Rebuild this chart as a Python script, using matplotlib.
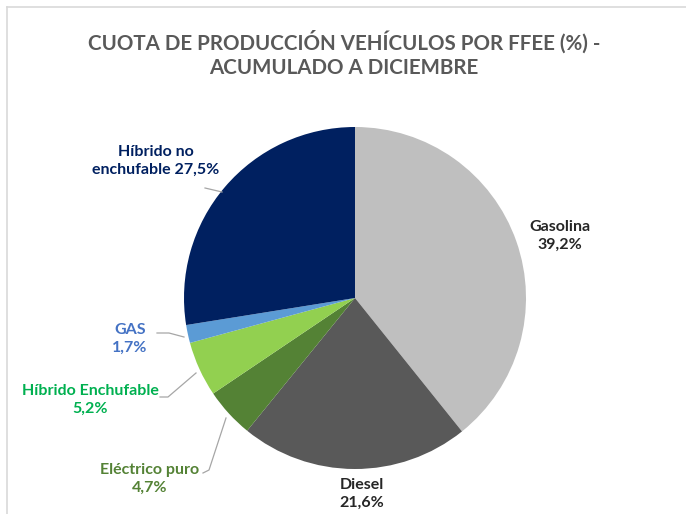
import matplotlib
matplotlib.use("Agg")
import matplotlib.pyplot as plt

categories = ["Gasolina", "Diesel", "Eléctrico puro", "Híbrido Enchufable", "GAS", "Híbrido no enchufable"]
values = [39.2, 21.6, 4.7, 5.2, 1.7, 27.5]
value_labels = ["39,2%", "21,6%", "4,7%", "5,2%", "1,7%", "27,5%"]
title = "CUOTA DE PRODUCCIÓN VEHÍCULOS POR FFEE (%) -\nACUMULADO A DICIEMBRE"

colors = ["#BFBFBF", "#595959", "#548235", "#92D050", "#5B9BD5", "#002060"]
label_colors = ["#262626", "#262626", "#548235", "#00B050", "#4472C4", "#002060"]

FONT = ["Lato", "DejaVu Sans"]

fig = plt.figure(figsize=(6.86, 5.14), dpi=100)
ax = fig.add_axes([0, 0, 1, 1])

ax.pie(values, colors=colors, startangle=-90, counterclock=True,
       center=(355, 298), radius=171, frame=True,
       wedgeprops=dict(linewidth=0))
ax.set_xlim(0, 686)
ax.set_ylim(514, 0)
ax.set_aspect("equal")
ax.axis("off")

# frame lines
ax.plot([7, 686], [7, 7], color="#D9D9D9", lw=1.2)
ax.plot([7, 7], [7, 514], color="#D9D9D9", lw=1.2)

ax.text(344, 54, title, ha="center", va="center", fontsize=14.8, fontweight="bold",
        color="#595959", family=FONT, linespacing=1.3)

fs = 11.5
lab = [
    (560, 236, "center", "Gasolina\n39,2%"),
    (362, 494, "center", "Diesel\n21,6%"),
    (150, 479, "center", "Eléctrico puro\n4,7%"),
    (90, 400, "center", "Híbrido Enchufable\n5,2%"),
    (130, 339, "center", "GAS\n1,7%"),
    (156, 161, "center", "Híbrido no\nenchufable 27,5%"),
]
for i, (x, y, ha, t) in enumerate(lab):
    ax.text(x, y, t, ha=ha, va="center", fontsize=fs, fontweight="bold",
            color=label_colors[i], family=FONT, linespacing=1.4)

lc = "#A6A6A6"
leaders = [
    ([203, 209, 226], [473, 470, 418]),
    ([160, 168, 196], [397, 397, 373]),
    ([157, 169, 184], [333, 333, 337]),
    ([205, 222], [188, 192]),
]
for xs, ys in leaders:
    ax.plot(xs, ys, color=lc, lw=0.9)

fig.savefig("out.png", dpi=100, facecolor="white")
